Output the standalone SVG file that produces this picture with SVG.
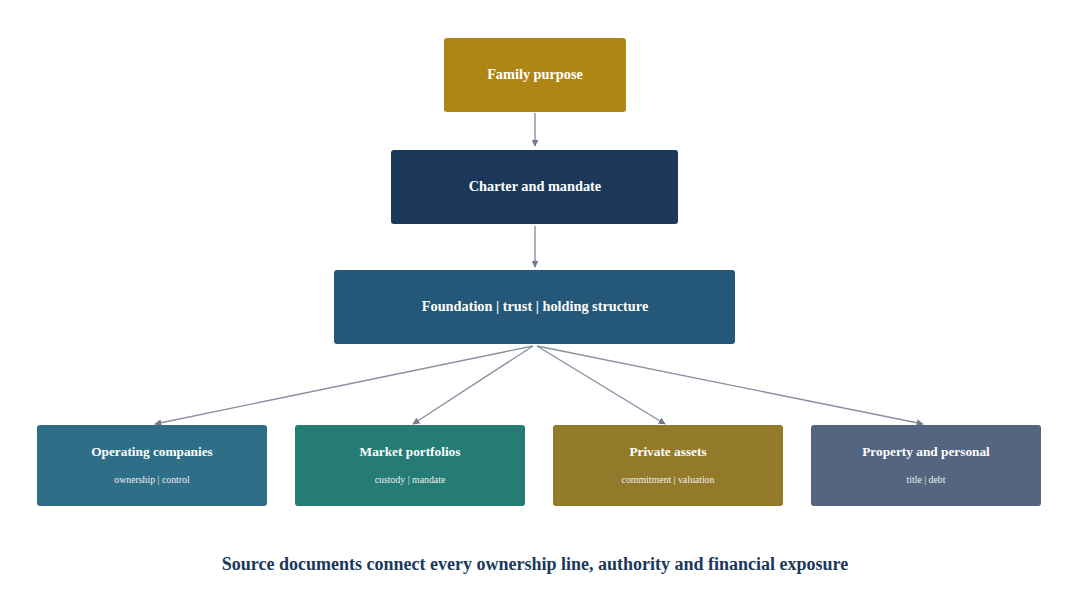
<svg xmlns="http://www.w3.org/2000/svg" width="1070" height="600" viewBox="0 0 1070 600">
<defs>
<style>
.t{font-family:"Liberation Serif","Times New Roman",serif;font-weight:bold;fill:#fff;text-anchor:middle;dominant-baseline:central}
.m{font-size:14.3px}
.b{font-size:13.3px}
.s{font-family:"Liberation Serif","Times New Roman",serif;font-size:9.8px;fill:#f0f0f0;text-anchor:middle;dominant-baseline:central}
.c{fill:none;stroke:#8791a1;stroke-width:1.4}
</style>
<marker id="ah" viewBox="0 0 10 10" refX="9" refY="5" markerWidth="7" markerHeight="7" markerUnits="userSpaceOnUse" orient="auto">
<path d="M0,0 L10,5 L0,10 z" fill="#707b8e"/>
</marker>
</defs>
<rect width="1070" height="600" fill="#fff"/>
<g id="connectors">
<line class="c" x1="535" y1="113" x2="535" y2="146" marker-end="url(#ah)"/>
<line class="c" x1="535" y1="226" x2="535" y2="267" marker-end="url(#ah)"/>
<line class="c" x1="533" y1="346" x2="155" y2="424" marker-end="url(#ah)"/>
<line class="c" x1="533" y1="346" x2="413" y2="424" marker-end="url(#ah)"/>
<line class="c" x1="537" y1="346" x2="665" y2="424" marker-end="url(#ah)"/>
<line class="c" x1="537" y1="346" x2="923" y2="424" marker-end="url(#ah)"/>
</g>
<g id="family-purpose">
<rect x="444" y="38" width="182" height="74" rx="3" fill="#af8513"/>
<text class="t m" x="535" y="74">Family purpose</text>
</g>
<g id="charter">
<rect x="391" y="150" width="287" height="74" rx="3" fill="#1b385b"/>
<text class="t m" x="535" y="186">Charter and mandate</text>
</g>
<g id="foundation">
<rect x="334" y="270" width="401" height="74" rx="3" fill="#255878"/>
<text class="t m" x="535" y="306">Foundation | trust | holding structure</text>
</g>
<g id="operating">
<rect x="37" y="425" width="230" height="81" rx="3" fill="#2e6f87"/>
<text class="t b" x="152" y="451.5">Operating companies</text>
<text class="s" x="152" y="479">ownership | control</text>
</g>
<g id="market">
<rect x="295" y="425" width="230" height="81" rx="3" fill="#247c75"/>
<text class="t b" x="410" y="451.5">Market portfolios</text>
<text class="s" x="410" y="479">custody | mandate</text>
</g>
<g id="private">
<rect x="553" y="425" width="230" height="81" rx="3" fill="#937a2b"/>
<text class="t b" x="668" y="451.5">Private assets</text>
<text class="s" x="668" y="479">commitment | valuation</text>
</g>
<g id="property">
<rect x="811" y="425" width="230" height="81" rx="3" fill="#53657f"/>
<text class="t b" x="926" y="451.5">Property and personal</text>
<text class="s" x="926" y="479">title | debt</text>
</g>
<text x="535" y="564" font-family="'Liberation Serif','Times New Roman',serif" font-size="18" font-weight="bold" fill="#1b385b" text-anchor="middle" dominant-baseline="central">Source documents connect every ownership line, authority and financial exposure</text>
</svg>
